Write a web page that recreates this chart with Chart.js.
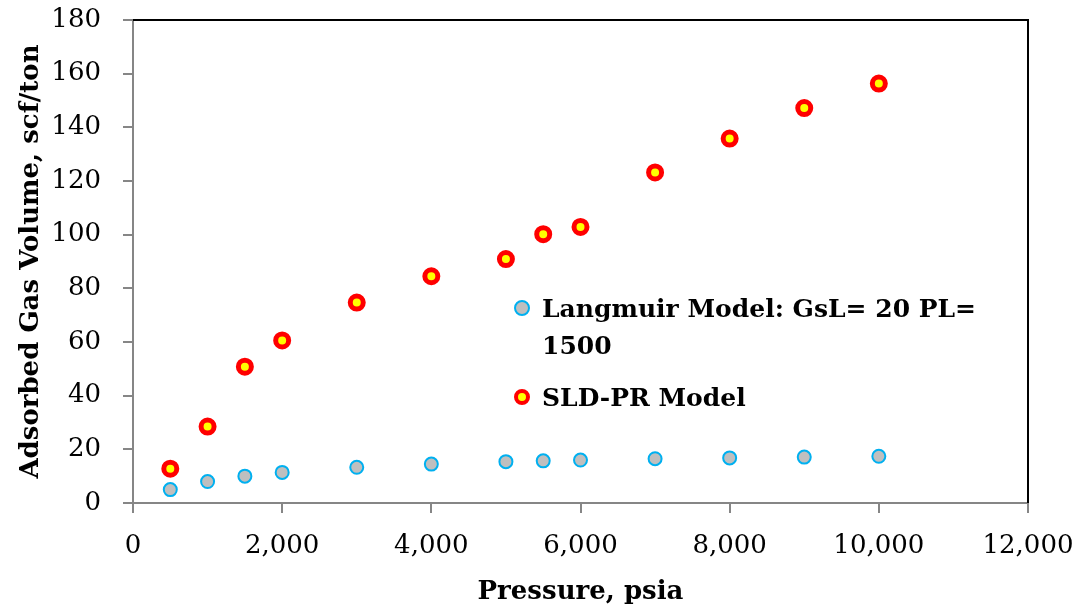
<!DOCTYPE html>
<html>
<head>
<meta charset="utf-8">
<script src="https://cdn.jsdelivr.net/npm/chart.js@4/dist/chart.umd.min.js"></script>
<style>
  html, body { margin: 0; padding: 0; background: #fff; }
  #wrap { position: relative; width: 1086px; height: 613px; }
  #legend {
    position: absolute; left: 512px; top: 290px; width: 470px;
    font-family: "DejaVu Serif", serif; font-weight: bold; font-size: 25px;
    line-height: 37px; color: #000;
  }
  .item { display: flex; align-items: flex-start; margin-bottom: 15px; }
  .dot { flex: none; box-sizing: border-box; width: 16px; height: 16px; border-radius: 50%; margin: 10px 12px 0 2px; }
</style>
</head>
<body>
<div id="wrap">
  <canvas id="chart" width="1086" height="613"></canvas>
  <div id="legend"></div>
</div>
<script>
const pressure = [500, 1000, 1500, 2000, 3000, 4000, 5000, 5500, 6000, 7000, 8000, 9000, 10000];
const langmuir = [5.0, 8.0, 10.0, 11.4, 13.3, 14.5, 15.4, 15.7, 16.0, 16.5, 16.8, 17.1, 17.4];
const sldpr = [12.8, 28.5, 50.8, 60.6, 74.7, 84.5, 90.9, 100.2, 102.9, 123.2, 135.8, 147.2, 156.3];
const seriesNames = ["Langmuir Model: GsL= 20 PL= 1500", "SLD-PR Model"];

const axisGray = "#868686";
const tickFont = { family: "DejaVu Serif", size: 26 };
const titleFont = { family: "DejaVu Serif", size: 26, weight: "bold" };

function points(ys) {
  return pressure.map((x, i) => ({ x, y: ys[i] }));
}

// black frame on the top and right of the plot area
const frame = {
  id: "frame",
  afterDraw(chart) {
    const { ctx, chartArea: a } = chart;
    ctx.save();
    ctx.strokeStyle = "#000";
    ctx.lineWidth = 2;
    ctx.beginPath();
    ctx.moveTo(a.left, a.top);
    ctx.lineTo(a.right, a.top);
    ctx.lineTo(a.right, a.bottom);
    ctx.stroke();
    ctx.restore();
  },
};

const chart = new Chart(document.getElementById("chart"), {
  type: "scatter",
  data: {
    datasets: [
      {
        label: seriesNames[0],
        data: points(langmuir),
        backgroundColor: "#BFBFBF",
        borderColor: "#00B0F0",
        borderWidth: 2,
        pointRadius: 6.5,
      },
      {
        label: seriesNames[1],
        data: points(sldpr),
        backgroundColor: "#FFFF00",
        borderColor: "#FF0000",
        borderWidth: 5,
        pointRadius: 6.5,
      },
    ],
  },
  options: {
    responsive: false,
    animation: false,
    layout: { padding: { top: 20, right: 58, left: 0, bottom: 0 } },
    plugins: { legend: { display: false }, tooltip: { enabled: false } },
    scales: {
      x: {
        type: "linear",
        min: 0,
        max: 12000,
        ticks: {
          stepSize: 2000,
          color: "#000",
          font: tickFont,
          padding: 18,
          callback: (v) => v.toLocaleString("en-US"),
        },
        grid: { drawOnChartArea: false, color: axisGray, tickLength: 10, lineWidth: 2 },
        border: { color: axisGray, width: 2 },
        title: { display: true, text: "Pressure, psia", color: "#000", font: titleFont, padding: { top: 0, bottom: 5 } },
        afterFit(scale) {
          scale.height = 110;
          scale.paddingLeft = 0;
          scale.paddingRight = 0;
        },
      },
      y: {
        min: 0,
        max: 180,
        ticks: { stepSize: 20, color: "#000", font: tickFont, padding: 22 },
        grid: { drawOnChartArea: false, color: axisGray, tickLength: 10, lineWidth: 2 },
        border: { color: axisGray, width: 2 },
        title: { display: true, text: "Adsorbed Gas Volume, scf/ton", color: "#000", font: titleFont, padding: { top: 16 } },
        afterFit(scale) {
          scale.width = 133;
          scale.paddingTop = 0;
          scale.paddingBottom = 0;
        },
      },
    },
  },
  plugins: [frame],
});

// legend placed inside the plot, built from the datasets
document.getElementById("legend").innerHTML = chart.data.datasets.map((ds) => `
  <div class="item">
    <span class="dot" style="background:${ds.backgroundColor};border:${ds.borderWidth === 5 ? 4 : 2}px solid ${ds.borderColor}"></span>
    <span>${ds.label}</span>
  </div>`).join("");
</script>
</body>
</html>
